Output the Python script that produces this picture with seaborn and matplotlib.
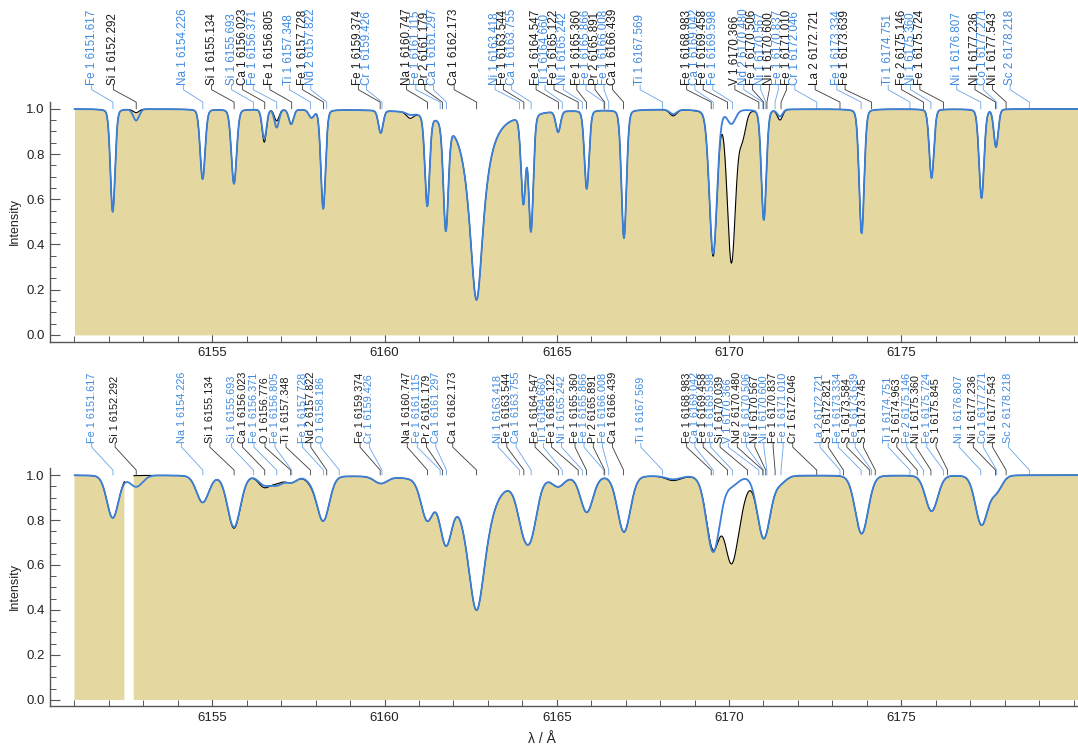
import numpy as np
import pandas as pd
import matplotlib
matplotlib.use("Agg")
import matplotlib.pyplot as plt
from matplotlib.ticker import MultipleLocator, FixedLocator
import seaborn as sns

sns.set_theme(style="ticks")
plt.rcParams["font.family"] = ["Liberation Sans", "DejaVu Sans"]

# =====================================================
# 1. Data
# =====================================================
# observed frame is shifted by ~0.5 A against the rest wavelengths of the labels
rv_shift = 0.5

# top panel: line centre (observed frame), depth observed / model, half width, lorentz part
top_center = [6152.11, 6152.79, 6154.72, 6155.63, 6156.51, 6156.87, 6157.29, 6157.88,
              6158.22, 6159.89, 6160.74, 6161.24, 6161.78, 6162.67, 6164.03, 6164.25,
              6165.04, 6165.87, 6166.95, 6168.38, 6169.54, 6170.07, 6170.38, 6171.01,
              6171.48, 6173.85, 6175.88, 6177.33, 6177.75]
top_depth_obs = [0.455, 0.015, 0.31, 0.33, 0.145, 0.05, 0.065, 0.034,
                 0.44, 0.10, 0.025, 0.415, 0.51, 0.845, 0.40, 0.53,
                 0.093, 0.35, 0.57, 0.027, 0.65, 0.68, 0.12, 0.49,
                 0.045, 0.55, 0.305, 0.394, 0.167]
top_depth_mod = [0.455, 0.05, 0.31, 0.33, 0.13, 0.08, 0.065, 0.034,
                 0.44, 0.10, 0.01, 0.415, 0.51, 0.845, 0.40, 0.53,
                 0.093, 0.35, 0.57, 0.02, 0.64, 0.06, 0.0, 0.49,
                 0.03, 0.55, 0.305, 0.394, 0.167]
top_hwhm = [0.08, 0.10, 0.085, 0.09, 0.075, 0.08, 0.08, 0.09,
            0.08, 0.08, 0.12, 0.08, 0.085, 0.25, 0.08, 0.08,
            0.08, 0.08, 0.085, 0.12, 0.13, 0.14, 0.12, 0.085,
            0.09, 0.085, 0.08, 0.085, 0.075]
top_lorentz = [0.15, 0.0, 0.15, 0.15, 0.1, 0.1, 0.1, 0.1,
               0.15, 0.1, 0.0, 0.2, 0.2, 1.0, 0.15, 0.15,
               0.1, 0.15, 0.15, 0.0, 0.15, 0.1, 0.0, 0.15,
               0.0, 0.15, 0.15, 0.15, 0.1]

# bottom panel: same lines, broadened
bot_center = [6152.11, 6152.79, 6154.72, 6155.63, 6156.51, 6156.87, 6157.29, 6157.88,
              6158.22, 6159.89, 6161.24, 6161.78, 6162.67, 6164.03, 6164.25, 6165.04,
              6165.87, 6166.95, 6168.38, 6169.54, 6170.07, 6170.38, 6171.01, 6171.48,
              6173.85, 6175.88, 6177.33, 6177.75]
bot_depth_obs = [0.19, 0.0, 0.12, 0.235, 0.05, 0.03, 0.03, 0.025,
                 0.20, 0.03, 0.18, 0.27, 0.60, 0.17, 0.21, 0.04,
                 0.16, 0.25, 0.02, 0.32, 0.38, 0.05, 0.28, 0.03,
                 0.26, 0.16, 0.22, 0.07]
bot_depth_mod = [0.19, 0.05, 0.12, 0.23, 0.04, 0.04, 0.03, 0.02,
                 0.20, 0.03, 0.18, 0.27, 0.60, 0.17, 0.21, 0.04,
                 0.16, 0.25, 0.015, 0.34, 0.04, 0.0, 0.28, 0.03,
                 0.26, 0.16, 0.22, 0.07]
bot_hwhm = [0.20, 0.22, 0.21, 0.22, 0.20, 0.20, 0.20, 0.20,
            0.21, 0.22, 0.21, 0.21, 0.33, 0.22, 0.22, 0.20,
            0.21, 0.22, 0.25, 0.23, 0.24, 0.20, 0.22, 0.20,
            0.22, 0.21, 0.21, 0.20]
bot_lorentz = [0.1, 0.0, 0.1, 0.1, 0.0, 0.0, 0.0, 0.0,
               0.1, 0.0, 0.1, 0.1, 0.8, 0.1, 0.1, 0.0,
               0.1, 0.1, 0.0, 0.1, 0.1, 0.0, 0.1, 0.0,
               0.1, 0.1, 0.1, 0.0]
# detector gap in the lower observed spectrum
bot_gap = (6152.46, 6152.72)
wl_start, wl_end = 6151.0, 6180.3

# line identifications
top_species = ["Fe 1", "Si 1", "Na 1", "Si 1", "Si 1", "Ca 1", "Fe 1", "Fe 1", "Ti 1", "Fe 1",
               "Nd 2", "Fe 1", "Cr 1", "Na 1", "Fe 1", "Pr 2", "Ca 1", "Ca 1", "Ni 1", "Fe 1",
               "Ca 1", "Fe 1", "Ti 1", "Fe 1", "Ni 1", "Fe 1", "Fe 1", "Pr 2", "Fe 1", "Ca 1",
               "Ti 1", "Fe 1", "Ca 1", "Fe 1", "Fe 1", "V 1", "Nd 2", "Fe 1", "Ni 1", "Ni 1",
               "Fe 1", "Fe 1", "Cr 1", "La 2", "Fe 1", "Fe 1", "Ti 1", "Fe 2", "Ni 1", "Fe 1",
               "Ni 1", "Ni 1", "Co 1", "Ni 1", "Sc 2"]
top_rest = [6151.617, 6152.292, 6154.226, 6155.134, 6155.693, 6156.023, 6156.371, 6156.805,
            6157.348, 6157.728, 6157.822, 6159.374, 6159.426, 6160.747, 6161.115, 6161.179,
            6161.297, 6162.173, 6163.418, 6163.544, 6163.755, 6164.547, 6164.660, 6165.122,
            6165.242, 6165.360, 6165.866, 6165.891, 6166.008, 6166.439, 6167.569, 6168.983,
            6169.042, 6169.458, 6169.598, 6170.366, 6170.480, 6170.506, 6170.567, 6170.600,
            6170.837, 6171.010, 6172.046, 6172.721, 6173.334, 6173.639, 6174.751, 6175.146,
            6175.360, 6175.724, 6176.807, 6177.236, 6177.271, 6177.543, 6178.218]

bot_species = ["Fe 1", "Si 1", "Na 1", "Si 1", "Si 1", "Ca 1", "Fe 1", "O 1", "Fe 1", "Ti 1",
               "Fe 1", "Nd 2", "O 1", "Fe 1", "Cr 1", "Na 1", "Fe 1", "Pr 2", "Ca 1", "Ca 1",
               "Ni 1", "Fe 1", "Ca 1", "Fe 1", "Ti 1", "Fe 1", "Ni 1", "Fe 1", "Fe 1", "Pr 2",
               "Fe 1", "Ca 1", "Ti 1", "Fe 1", "Ca 1", "Fe 1", "Fe 1", "Si 1", "V 1", "Nd 2",
               "Fe 1", "Ni 1", "Ni 1", "Fe 1", "Fe 1", "Cr 1", "La 2", "S 1", "Fe 1", "S 1",
               "Fe 1", "S 1", "Ti 1", "S 1", "Fe 2", "Ni 1", "Fe 1", "S 1", "Ni 1", "Ni 1",
               "Co 1", "Ni 1", "Sc 2"]
bot_rest = [6151.617, 6152.292, 6154.226, 6155.134, 6155.693, 6156.023, 6156.371, 6156.776,
            6156.805, 6157.348, 6157.728, 6157.822, 6158.186, 6159.374, 6159.426, 6160.747,
            6161.115, 6161.179, 6161.297, 6162.173, 6163.418, 6163.544, 6163.755, 6164.547,
            6164.660, 6165.122, 6165.242, 6165.360, 6165.866, 6165.891, 6166.008, 6166.439,
            6167.569, 6168.983, 6169.042, 6169.458, 6169.598, 6170.039, 6170.366, 6170.480,
            6170.506, 6170.567, 6170.600, 6170.837, 6171.010, 6172.046, 6172.721, 6172.821,
            6173.334, 6173.584, 6173.639, 6173.745, 6174.751, 6174.963, 6175.146, 6175.360,
            6175.724, 6175.845, 6176.807, 6177.236, 6177.271, 6177.543, 6178.218]

# where the (spread out) label texts sit along the wavelength axis
top_label_x = [6151.50, 6152.13, 6154.16, 6154.98, 6155.56, 6155.88, 6156.19, 6156.67,
               6157.24, 6157.62, 6157.86, 6159.24, 6159.48, 6160.64, 6160.91, 6161.17,
               6161.42, 6162.02, 6163.21, 6163.45, 6163.69, 6164.40, 6164.66, 6164.92,
               6165.19, 6165.58, 6165.85, 6166.11, 6166.37, 6166.62, 6167.42, 6168.77,
               6169.01, 6169.25, 6169.53, 6170.17, 6170.43, 6170.68, 6170.92, 6171.17,
               6171.43, 6171.67, 6171.91, 6172.50, 6173.13, 6173.37, 6174.62, 6175.01,
               6175.27, 6175.54, 6176.61, 6177.14, 6177.38, 6177.65, 6178.16]
bot_label_x = [6151.50, 6152.18, 6154.11, 6154.93, 6155.56, 6155.88, 6156.21, 6156.53,
               6156.82, 6157.14, 6157.62, 6157.86, 6158.15, 6159.29, 6159.56, 6160.66,
               6160.95, 6161.22, 6161.49, 6161.98, 6163.30, 6163.55, 6163.82, 6164.37,
               6164.61, 6164.85, 6165.14, 6165.53, 6165.79, 6166.06, 6166.33, 6166.62,
               6167.44, 6168.77, 6169.01, 6169.25, 6169.47, 6169.74, 6169.98, 6170.24,
               6170.51, 6170.75, 6171.01, 6171.28, 6171.57, 6171.85, 6172.64, 6172.88,
               6173.17, 6173.42, 6173.66, 6173.90, 6174.62, 6174.87, 6175.16, 6175.43,
               6175.74, 6176.01, 6176.68, 6177.09, 6177.38, 6177.65, 6178.11]

major_ticks = [6155, 6160, 6165, 6170, 6175]

# =====================================================
# 2. Build the spectra from the line lists
# =====================================================
def line_spectrum(wl, centers, depths, hwhm, eta):
    flux = np.ones_like(wl)
    for c, d, h, e in zip(centers, depths, hwhm, eta):
        u = (wl - c) / h
        prof = (1 - e) * np.exp(-np.log(2) * u ** 2) + e / (1 + u ** 2)
        flux *= 1 - d * prof
    return flux

wl = np.arange(wl_start, wl_end, 0.01)

top_df = pd.DataFrame({
    "wl": wl,
    "obs": line_spectrum(wl, top_center, top_depth_obs, top_hwhm, top_lorentz),
    "mod": line_spectrum(wl, top_center, top_depth_mod, top_hwhm, top_lorentz),
})
bot_df = pd.DataFrame({
    "wl": wl,
    "obs": line_spectrum(wl, bot_center, bot_depth_obs, bot_hwhm, bot_lorentz),
    "mod": line_spectrum(wl, bot_center, bot_depth_mod, bot_hwhm, bot_lorentz),
})
in_gap = (bot_df["wl"] > bot_gap[0]) & (bot_df["wl"] < bot_gap[1])
bot_df.loc[in_gap, "obs"] = np.nan
for df in (top_df, bot_df):
    df["seg"] = df["obs"].isna().cumsum()

# =====================================================
# 3. Plot
# =====================================================
fill_col = "#e4d8a0"
model_col = "#3c7fd6"
lab_blue = "#3f8ae0"
lab_black = "#1a1a1a"
lead_blue = "#6aa4e8"
lead_black = "#3a3a3a"

fig = plt.figure(figsize=(10.78, 7.47), dpi=100)
ax_top = fig.add_axes([0.0464, 0.5426, 0.9536, 0.3213])
ax_bot = fig.add_axes([0.0464, 0.0549, 0.9536, 0.3191])

panels = [
    (ax_top, top_df, top_species, top_rest, top_label_x, (1.106, 1.085, 1.03), 8.4, (-0.03, 1.032)),
    (ax_bot, bot_df, bot_species, bot_rest, bot_label_x, (1.142, 1.124, 1.022), 7.8, (-0.027, 1.033)),
]

for ax, df, species, rest, label_x, ylev, fs, ylim in panels:
    ax.fill_between(df["wl"], 0, df["obs"], color=fill_col, lw=0, zorder=1)
    sns.lineplot(data=df, x="wl", y="obs", units="seg", estimator=None, sort=False,
                 color="black", lw=0.8, ax=ax, zorder=3)
    sns.lineplot(data=df, x="wl", y="mod", estimator=None, sort=False,
                 color=model_col, lw=1.3, ax=ax, zorder=4)

    # line identifications with leader lines
    y_lb, y_k1, y_k2 = ylev
    for i, (sp, lam, lx) in enumerate(zip(species, rest, label_x)):
        txt_col = lab_blue if i % 2 == 0 else lab_black
        ld_col = lead_blue if i % 2 == 0 else lead_black
        target = lam + rv_shift
        ax.text(lx, y_lb, f"{sp} {lam:.3f}", rotation=90, ha="center", va="bottom",
                color=txt_col, fontsize=fs, clip_on=False)
        ax.plot([lx, lx, target, target], [y_lb, y_k1, y_k2, 1.0], color=ld_col,
                lw=0.6, clip_on=False, zorder=2)

    ax.set_xlim(6150.29, 6180.13)
    ax.set_ylim(*ylim)
    ax.xaxis.set_major_locator(FixedLocator(major_ticks))
    ax.xaxis.set_minor_locator(MultipleLocator(1))
    ax.yaxis.set_major_locator(MultipleLocator(0.2))
    ax.yaxis.set_minor_locator(MultipleLocator(0.05))
    ax.tick_params(which="major", direction="in", length=7, width=0.8, color="#555555",
                   labelsize=9.5, labelcolor="#222222", pad=4)
    ax.tick_params(which="minor", direction="in", length=4, width=0.7, color="#555555")
    ax.set_xlabel("")
    ax.set_ylabel("Intensity", fontsize=9, color="#222222")
    ax.yaxis.set_label_coords(-0.028, 0.5)
    sns.despine(ax=ax)
    for s in ("left", "bottom"):
        ax.spines[s].set_color("#555555")
        ax.spines[s].set_linewidth(1.0)
    ax.set_facecolor("white")

fig.text(0.503, 0.011, "λ / Å", ha="center", va="center", fontsize=10, color="#222222")

plt.savefig("out.png", dpi=100)
plt.close()
